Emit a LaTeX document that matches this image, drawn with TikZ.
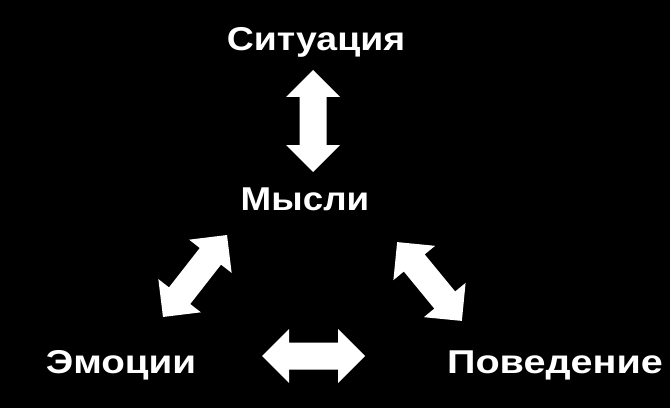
\documentclass[tikz,border=0pt]{standalone}
\usepackage{fontspec}
\setmainfont{Liberation Sans}
\begin{document}
\begin{tikzpicture}[x=1pt,y=1pt,
  lbl/.style={text=white,font=\bfseries\fontsize{33}{40}\selectfont,anchor=base,inner sep=0pt},
  pics/dbl/.style={code={
    \fill[white] ({-#1/2},0) -- ({-#1/2+27},27) -- ({-#1/2+27},13.5) -- ({#1/2-27},13.5)
      -- ({#1/2-27},27) -- ({#1/2},0) -- ({#1/2-27},-27) -- ({#1/2-27},-13.5)
      -- ({-#1/2+27},-13.5) -- ({-#1/2+27},-27) -- cycle;
  }}]
\fill[black] (0,0) rectangle (670,408);
\useasboundingbox (0,0) rectangle (670,408);
\node[lbl] (sit) at (316,357) {\scalebox{1.135}[1]{Ситуация}};
\node[lbl] (mys) at (305,198) {\scalebox{1.115}[1]{Мысли}};
\node[lbl] (emo) at (121,35) {\scalebox{1.17}[1]{Эмоции}};
\node[lbl] (pov) at (555,35) {\scalebox{1.2}[1]{Поведение}};
\pic at (313,287) [rotate=90] {dbl=102};
\pic at (313.5,52) {dbl=103};
\pic at (195,132) [rotate=52] {dbl=104};
\pic at (429.5,126.5) [rotate=-50.6] {dbl=102};
\end{tikzpicture}
\end{document}
